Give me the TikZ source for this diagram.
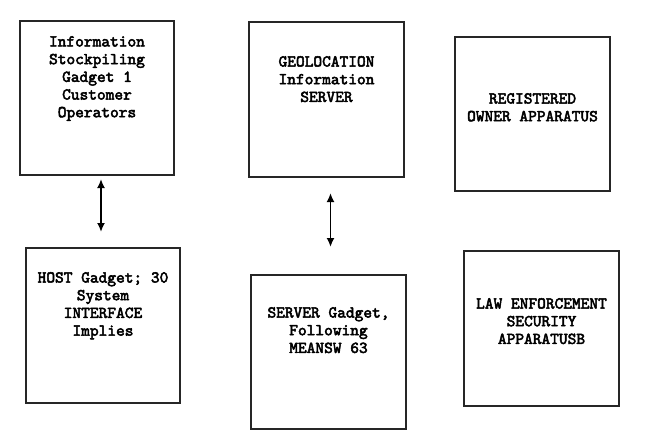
\documentclass[tikz,border=0pt]{standalone}
\usepackage{fontspec}
\newfontfamily\courb{lmmono10-regular.otf}[FakeBold=3]
\usetikzlibrary{arrows.meta}
\begin{document}
\begin{tikzpicture}[x=1pt,y=-1pt,
  box/.style={draw=black!85,line width=2pt,minimum width=154pt,minimum height=154pt,inner sep=0pt},
  lbl/.style={anchor=north,align=center,inner sep=0pt,font=\courb\fontsize{16.6}{17.7}\selectfont},
  arr/.style={line width=1.8pt,{Latex[length=9pt,width=8pt]}-{Latex[length=9pt,width=8pt]}}]
\useasboundingbox (0,0) rectangle (656,445);
\node[box] (a) at (97,98) {};
\node[box,minimum width=155pt,minimum height=155pt] (b) at (326.5,99.5) {};
\node[box,minimum width=155pt] (c) at (532.5,114) {};
\node[box,minimum height=155pt] (d) at (103,325.5) {};
\node[box,minimum width=155pt] (e) at (328.5,352) {};
\node[box,minimum width=155pt,minimum height=155pt] (f) at (541.5,328.5) {};
\node[lbl] (ta) at (97,36) {Information\\Stockpiling\\Gadget 1\\Customer\\Operators};
\node[lbl] (tb) at (326.5,56) {GEOLOCATION\\Information\\SERVER};
\node[lbl] (tc) at (532.5,93) {REGISTERED\\OWNER APPARATUS};
\node[lbl] (td) at (103,272) {HOST Gadget; 30\\System\\INTERFACE\\Implies};
\node[lbl] (te) at (328.5,307) {SERVER Gadget,\\Following\\MEANSW 63};
\node[lbl] (tf) at (541.5,298) {LAW ENFORCEMENT\\SECURITY\\APPARATUSB};
\coordinate (a1) at (101,179);
\coordinate (d1) at (101,232);
\coordinate (b1) at (330.5,193);
\coordinate (e1) at (330.5,247);
\draw[arr] (a1) -- (d1);
\draw[arr] (b1) -- (e1);
\end{tikzpicture}
\end{document}
